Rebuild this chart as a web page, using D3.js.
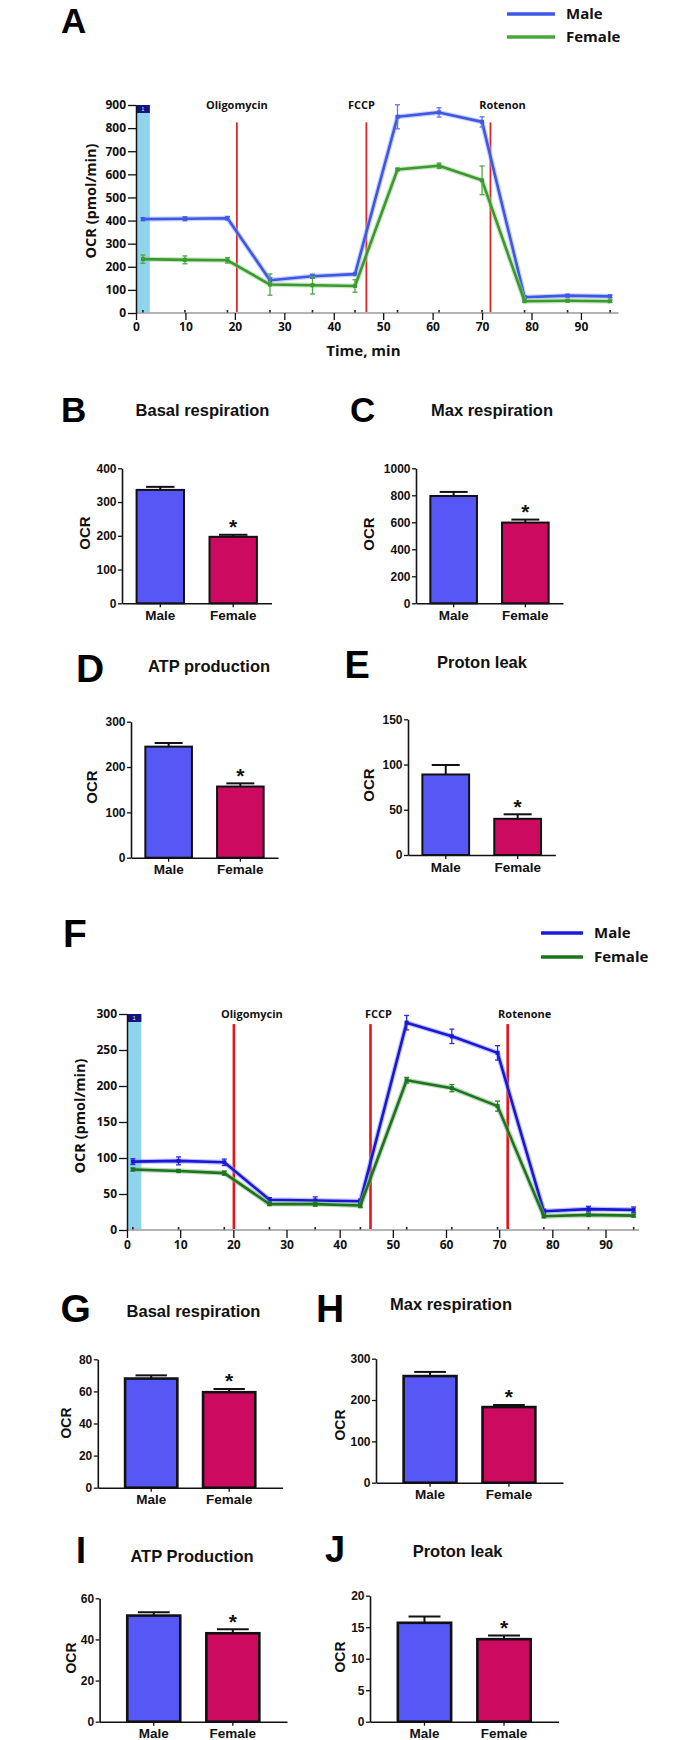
<!DOCTYPE html>
<html><head><meta charset="utf-8">
<script src="https://cdn.jsdelivr.net/npm/d3@7"></script>
<style>
body{margin:0;background:#fff;}
svg{display:block;}
</style></head><body>
<svg id="chart" width="700" height="1740"></svg>
<script>
// ---------------- DATA ----------------
// Panel A (Seahorse trace, pmol/min)
const aTimes      = [1.4, 9.9, 18.5, 27.1, 35.7, 44.3, 52.9, 61.3, 70.0, 78.6, 87.3, 95.9];
const aMale       = [406, 408, 410, 142, 159, 168, 849, 868, 827, 68, 75, 72];
const aMaleErr    = [6, 9, 8, 12, 9, 5, 52, 20, 22, 6, 6, 6];
const aFemale     = [233, 230, 228, 123, 120, 117, 621, 637, 574, 51, 53, 51];
const aFemaleErr  = [18, 17, 12, 46, 38, 27, 5, 12, 62, 5, 5, 5];
const aInjections = ["Oligomycin", "FCCP", "Rotenon"];
const aInjectionTimes = [20.4, 46.6, 71.7];
const aInjectionTop = 825;
const aBaselineBand = [0, 2.8];
const aYTicks = [0, 100, 200, 300, 400, 500, 600, 700, 800, 900];
const aXTicks = [0, 10, 20, 30, 40, 50, 60, 70, 80, 90];

// Panel F (Seahorse trace, pmol/min)
const fTimes      = [1.1, 9.7, 18.3, 26.8, 35.4, 43.9, 52.6, 61.1, 69.7, 78.4, 86.8, 95.3];
const fMale       = [95, 96, 94, 42, 41, 40, 288, 269, 246, 26, 29, 28];
const fMaleErr    = [4, 5.5, 4.5, 3, 5, 3, 10, 10, 10, 3, 4, 4];
const fFemale     = [84, 82, 79, 36, 36, 34, 208, 197, 172, 19, 21, 20];
const fFemaleErr  = [2, 2, 3, 2, 3, 3, 4, 5, 7, 2, 2, 2];
const fInjections = ["Oligomycin", "FCCP", "Rotenone"];
const fInjectionTimes = [20.1, 45.8, 71.6];
const fInjectionTop = 286;
const fBaselineBand = [0, 2.7];
const fYTicks = [0, 50, 100, 150, 200, 250, 300];
const fXTicks = [0, 10, 20, 30, 40, 50, 60, 70, 80, 90];

const seriesNames = ["Male", "Female"];

// Bar panels (OCR)
const sexes = ["Male", "Female"];
const bValues = [336, 197];   const bErrors = [9, 6];
const cValues = [795, 598];   const cErrors = [30, 22];
const dValues = [245, 157];   const dErrors = [8, 7];
const eValues = [89, 40];     const eErrors = [10.5, 5];
const gValues = [68, 59.5];   const gErrors = [2, 2];
const hValues = [258, 183];   const hErrors = [10, 5];
const iValues = [51.6, 43];   const iErrors = [1.6, 2];
const jValues = [15.7, 13.1]; const jErrors = [1, 0.6];

const bTicks = [0, 100, 200, 300, 400];
const cTicks = [0, 200, 400, 600, 800, 1000];
const dTicks = [0, 100, 200, 300];
const eTicks = [0, 50, 100, 150];
const gTicks = [0, 20, 40, 60, 80];
const hTicks = [0, 100, 200, 300];
const iTicks = [0, 20, 40, 60];
const jTicks = [0, 5, 10, 15, 20];

// ---------------- DRAWING ----------------
const svg = d3.select("#chart");
const ARIAL = "'Liberation Sans', Arial, sans-serif";
const OPEN = "'Open Sans', 'Liberation Sans', sans-serif";
const maleBar = "#5757f6", femaleBar = "#cc0a5f";

function panelLetter(txt, x, y, size) {
  svg.append("text").attr("x", x).attr("y", y).text(txt)
    .attr("font-family", ARIAL).attr("font-weight", "bold").attr("font-size", size).attr("fill", "#000");
}

function linePanel(o) {
  const x = d3.scaleLinear().domain([0, o.xMax]).range([o.left, o.right]);
  const y = d3.scaleLinear().domain([0, o.yMax]).range([o.bottom, o.top]);
  const g = svg.append("g");

  // baseline band
  g.append("rect").attr("x", x(o.band[0])).attr("width", x(o.band[1]) - x(o.band[0]))
    .attr("y", y(o.yMax)).attr("height", y(0) - y(o.yMax)).attr("fill", "#8fd3ed");
  g.append("rect").attr("x", x(o.band[0])).attr("width", x(o.band[1]) - x(o.band[0]))
    .attr("y", y(o.yMax)).attr("height", 8).attr("fill", "#14147e");
  g.append("text").attr("x", (x(o.band[0]) + x(o.band[1])) / 2).attr("y", y(o.yMax) + 6)
    .attr("text-anchor", "middle").attr("font-size", 5).attr("font-family", ARIAL).attr("fill", "#fff").text("1");

  // injection lines and labels
  o.injTimes.forEach((t, i) => {
    g.append("line").attr("x1", x(t)).attr("x2", x(t)).attr("y1", y(o.injTop)).attr("y2", y(0))
      .attr("stroke", o.injColor).attr("stroke-width", o.injWidth);
    g.append("text").attr("x", x(t) + o.labelOffsets[i]).attr("y", y(o.yMax)).attr("dy", "0.36em")
      .attr("text-anchor", "middle").attr("font-family", OPEN).attr("font-weight", "bold")
      .attr("font-size", 11).attr("fill", "#111").text(o.injNames[i]);
  });

  // x axis (grey line + black ticks)
  g.append("line").attr("x1", x(0)).attr("x2", x(o.xMax)).attr("y1", y(0)).attr("y2", y(0))
    .attr("stroke", "#b2b2b2").attr("stroke-width", 2.2);
  const xa = g.append("g").attr("transform", `translate(0,${y(0)})`)
    .call(d3.axisBottom(x).tickValues(o.xTicks).tickSize(o.xTickSize).tickSizeOuter(0).tickPadding(2).tickFormat(d3.format("d")));
  xa.select(".domain").remove();
  xa.selectAll(".tick line").attr("stroke", "#111").attr("stroke-width", 1.3);
  xa.selectAll(".tick text").attr("font-family", OPEN).attr("font-weight", "bold").attr("font-size", 12).attr("fill", "#111");
  // measurement markers on axis
  g.selectAll(".mk").data(o.times).enter().append("rect")
    .attr("x", d => x(d) - 0.8).attr("width", 1.6).attr("y", y(0) - 3).attr("height", 2.5).attr("fill", "#222");

  // y axis
  const ya = g.append("g").attr("transform", `translate(${x(0)},0)`)
    .call(d3.axisLeft(y).tickValues(o.yTicks).tickSize(8).tickSizeOuter(0).tickPadding(2).tickFormat(d3.format("d")));
  ya.select(".domain").attr("stroke", "#111").attr("stroke-width", 1.5);
  ya.selectAll(".tick line").attr("stroke", "#111").attr("stroke-width", 1.3);
  ya.selectAll(".tick text").attr("font-family", OPEN).attr("font-weight", "bold").attr("font-size", 12).attr("fill", "#111");

  // y label
  g.append("text").attr("transform", `translate(${o.yLabelX},${(y(0) + y(o.yMax)) / 2 + o.yLabelDy}) rotate(-90)`)
    .attr("text-anchor", "middle").attr("dy", "0.36em").attr("font-family", OPEN).attr("font-weight", "bold")
    .attr("font-size", 14.5).attr("fill", "#111").text("OCR (pmol/min)");
  if (o.xLabel) {
    g.append("text").attr("x", x(o.xLabelT)).attr("y", o.xLabelY).attr("text-anchor", "middle")
      .attr("font-family", OPEN).attr("font-weight", "bold").attr("font-size", 15).attr("fill", "#111").text(o.xLabel);
  }

  // series
  o.series.forEach(s => {
    const pts = o.times.map((t, i) => ({ t, v: s.values[i], e: s.errors[i] }));
    const line = d3.line().x(d => x(d.t)).y(d => y(d.v));
    g.append("path").datum(pts).attr("d", line).attr("fill", "none").attr("stroke", s.halo)
      .attr("stroke-width", 5).attr("stroke-opacity", 0.55).attr("stroke-linejoin", "round");
    g.append("path").datum(pts).attr("d", line).attr("fill", "none").attr("stroke", s.color)
      .attr("stroke-width", 2.6).attr("stroke-linejoin", "round");
    const eb = g.selectAll(null).data(pts).enter().append("g").attr("stroke", s.errColor).attr("stroke-width", 1.3);
    eb.append("line").attr("x1", d => x(d.t)).attr("x2", d => x(d.t)).attr("y1", d => y(d.v - d.e)).attr("y2", d => y(d.v + d.e));
    eb.append("line").attr("x1", d => x(d.t) - 2.5).attr("x2", d => x(d.t) + 2.5).attr("y1", d => y(d.v - d.e)).attr("y2", d => y(d.v - d.e));
    eb.append("line").attr("x1", d => x(d.t) - 2.5).attr("x2", d => x(d.t) + 2.5).attr("y1", d => y(d.v + d.e)).attr("y2", d => y(d.v + d.e));
    g.selectAll(null).data(pts).enter().append("rect")
      .attr("x", d => x(d.t) - 2).attr("y", d => y(d.v) - 2).attr("width", 4).attr("height", 4).attr("fill", s.color);
  });

  // legend
  if (o.legend) {
    o.series.forEach((s, i) => {
      const ly = o.legend.y + i * o.legend.gap;
      g.append("line").attr("x1", o.legend.x).attr("x2", o.legend.x + o.legend.len).attr("y1", ly).attr("y2", ly)
        .attr("stroke", s.legendColor).attr("stroke-width", 3.5);
      g.append("text").attr("x", o.legend.x + o.legend.len + 11).attr("y", ly).attr("dy", "0.36em")
        .attr("font-family", OPEN).attr("font-weight", "bold").attr("font-size", 15).attr("fill", "#111").text(s.name);
    });
  }
}

function barPanel(o) {
  const x = d3.scaleBand().domain(sexes).range([o.left, o.right]).paddingInner(o.pi).paddingOuter(o.po);
  const y = d3.scaleLinear().domain([0, o.ticks[o.ticks.length - 1]]).range([o.bottom, o.top]);
  const g = svg.append("g");
  const data = sexes.map((s, i) => ({ s, v: o.values[i], e: o.errors[i] }));

  // title
  g.append("text").attr("x", o.titleX).attr("y", o.titleY).attr("text-anchor", "middle")
    .attr("font-family", ARIAL).attr("font-weight", "bold").attr("font-size", 16.5).attr("fill", "#111").text(o.title);

  // bars
  g.selectAll(null).data(data).enter().append("rect")
    .attr("x", d => x(d.s)).attr("width", x.bandwidth())
    .attr("y", d => y(d.v)).attr("height", d => y(0) - y(d.v))
    .attr("fill", (d, i) => i === 0 ? maleBar : femaleBar)
    .attr("stroke", "#111").attr("stroke-width", o.stroke);

  // error bars (upper)
  const cap = x.bandwidth() * 0.3;
  data.forEach(d => {
    const cx = x(d.s) + x.bandwidth() / 2;
    g.append("line").attr("x1", cx).attr("x2", cx).attr("y1", y(d.v)).attr("y2", y(d.v + d.e)).attr("stroke", "#111").attr("stroke-width", 2);
    g.append("line").attr("x1", cx - cap).attr("x2", cx + cap).attr("y1", y(d.v + d.e)).attr("y2", y(d.v + d.e)).attr("stroke", "#111").attr("stroke-width", 2);
  });
  // significance star on Female
  const fd = data[1];
  g.append("text").attr("x", x(fd.s) + x.bandwidth() / 2).attr("y", y(fd.v + fd.e) - 0.5)
    .attr("text-anchor", "middle").attr("font-family", ARIAL).attr("font-weight", "bold")
    .attr("font-size", 21).attr("fill", "#111").text("*");

  // y axis
  const ya = g.append("g").attr("transform", `translate(${o.left},0)`)
    .call(d3.axisLeft(y).tickValues(o.ticks).tickSize(4).tickSizeOuter(0).tickPadding(1.5).tickFormat(d3.format("d")));
  ya.select(".domain").attr("stroke", "#111").attr("stroke-width", 1.6);
  ya.selectAll(".tick line").attr("stroke", "#111").attr("stroke-width", 1.3);
  ya.selectAll(".tick text").attr("font-family", ARIAL).attr("font-weight", "bold").attr("font-size", 12).attr("fill", "#111");

  // x axis
  const xa = g.append("g").attr("transform", `translate(0,${y(0)})`)
    .call(d3.axisBottom(x).tickSize(4).tickSizeOuter(0).tickPadding(3));
  xa.select(".domain").attr("stroke", "#111").attr("stroke-width", 1.6);
  xa.selectAll(".tick line").attr("stroke", "#111").attr("stroke-width", 1.3);
  xa.selectAll(".tick text").attr("font-family", ARIAL).attr("font-weight", "bold").attr("font-size", 13.5).attr("fill", "#111");

  // y label
  g.append("text").attr("transform", `translate(${o.yLabelX},${o.yLabelY}) rotate(-90)`)
    .attr("text-anchor", "middle").attr("dy", "0.36em").attr("font-family", ARIAL).attr("font-weight", "bold")
    .attr("font-size", o.yLabelSize).attr("fill", "#111").text("OCR");
}

// ---------- Panel A ----------
panelLetter("A", 61, 32.5, 35);
linePanel({
  left: 136, right: 618.5, top: 105, bottom: 313, xMax: 97.6, yMax: 900,
  times: aTimes, xTicks: aXTicks, yTicks: aYTicks, xTickSize: 7,
  band: aBaselineBand, injTimes: aInjectionTimes, injNames: aInjections, injTop: aInjectionTop,
  injColor: "#d7262c", injWidth: 1.8, labelOffsets: [0, -5, 12],
  yLabelX: 91, yLabelDy: -8, xLabel: "Time, min", xLabelT: 46, xLabelY: 356,
  series: [
    { name: seriesNames[0], values: aMale, errors: aMaleErr, color: "#3d57e6", halo: "#9aa9f2", errColor: "#5c73ea", legendColor: "#3d57e6" },
    { name: seriesNames[1], values: aFemale, errors: aFemaleErr, color: "#3a9a2e", halo: "#9fd093", errColor: "#4fa843", legendColor: "#4aa53c" }
  ],
  legend: { x: 507, len: 48, y: 14, gap: 23 }
});

// ---------- Panels B-E ----------
panelLetter("B", 61, 422, 35);
barPanel({ left: 122, right: 271.5, top: 468.3, bottom: 603.3, pi: 0.35, po: 0.2, stroke: 2,
  values: bValues, errors: bErrors, ticks: bTicks, title: "Basal respiration", titleX: 202.5, titleY: 416,
  yLabelX: 85, yLabelY: 533, yLabelSize: 15 });
panelLetter("C", 350, 422, 35);
barPanel({ left: 416, right: 563, top: 468.3, bottom: 603.3, pi: 0.35, po: 0.2, stroke: 2,
  values: cValues, errors: cErrors, ticks: cTicks, title: "Max respiration", titleX: 492, titleY: 416,
  yLabelX: 369, yLabelY: 534, yLabelSize: 15 });
panelLetter("D", 76, 682, 39);
barPanel({ left: 131, right: 278, top: 721.7, bottom: 857.7, pi: 0.35, po: 0.2, stroke: 2,
  values: dValues, errors: dErrors, ticks: dTicks, title: "ATP production", titleX: 209, titleY: 671.5,
  yLabelX: 92, yLabelY: 787, yLabelSize: 15 });
panelLetter("E", 344.5, 678, 38);
barPanel({ left: 408, right: 555.4, top: 719.3, bottom: 855, pi: 0.35, po: 0.2, stroke: 2,
  values: eValues, errors: eErrors, ticks: eTicks, title: "Proton leak", titleX: 482, titleY: 668,
  yLabelX: 369, yLabelY: 785, yLabelSize: 15 });

// ---------- Panel F ----------
panelLetter("F", 63, 947, 39);
linePanel({
  left: 127, right: 639, top: 1014, bottom: 1230, xMax: 96.3, yMax: 300,
  times: fTimes, xTicks: fXTicks, yTicks: fYTicks, xTickSize: 8,
  band: fBaselineBand, injTimes: fInjectionTimes, injNames: fInjections, injTop: fInjectionTop,
  injColor: "#e8141c", injWidth: 2.6, labelOffsets: [18, 8, 17],
  yLabelX: 80, yLabelDy: -6, xLabel: null,
  series: [
    { name: seriesNames[0], values: fMale, errors: fMaleErr, color: "#1717d8", halo: "#8c8cee", errColor: "#2a2ad8", legendColor: "#1a1ae0" },
    { name: seriesNames[1], values: fFemale, errors: fFemaleErr, color: "#1c741c", halo: "#86b486", errColor: "#2c842c", legendColor: "#1c741c" }
  ],
  legend: { x: 541, len: 42, y: 933, gap: 24 }
});

// ---------- Panels G-J ----------
panelLetter("G", 60.6, 1322, 39);
barPanel({ left: 97.8, right: 282.6, top: 1359.3, bottom: 1487.7, pi: 0.33, po: 0.35, stroke: 2.6,
  values: gValues, errors: gErrors, ticks: gTicks, title: "Basal respiration", titleX: 193.5, titleY: 1317,
  yLabelX: 66.4, yLabelY: 1423, yLabelSize: 14 });
panelLetter("H", 316, 1322, 39);
barPanel({ left: 376, right: 563, top: 1358.7, bottom: 1482.7, pi: 0.33, po: 0.35, stroke: 2.6,
  values: hValues, errors: hErrors, ticks: hTicks, title: "Max respiration", titleX: 451, titleY: 1310,
  yLabelX: 339.6, yLabelY: 1425, yLabelSize: 14 });
panelLetter("I", 76, 1563, 36);
barPanel({ left: 99.6, right: 287, top: 1598.3, bottom: 1721.7, pi: 0.33, po: 0.35, stroke: 2.6,
  values: iValues, errors: iErrors, ticks: iTicks, title: "ATP Production", titleX: 192, titleY: 1561.5,
  yLabelX: 71, yLabelY: 1658, yLabelSize: 14 });
panelLetter("J", 325, 1562, 36);
barPanel({ left: 370, right: 558.5, top: 1595.7, bottom: 1721.7, pi: 0.33, po: 0.35, stroke: 2.6,
  values: jValues, errors: jErrors, ticks: jTicks, title: "Proton leak", titleX: 457.6, titleY: 1557,
  yLabelX: 339.6, yLabelY: 1657, yLabelSize: 14 });
</script>
</body></html>
